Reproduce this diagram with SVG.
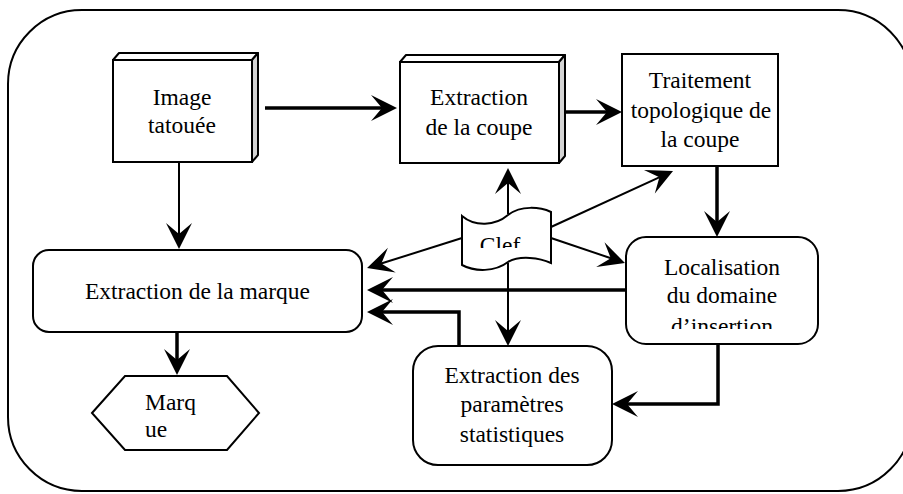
<svg xmlns="http://www.w3.org/2000/svg" width="903" height="494" viewBox="0 0 903 494">
<style>
.box{fill:#fff;stroke:#000;stroke-width:2}
.side{fill:#d4d4d4;stroke:#000;stroke-width:2;stroke-linejoin:round}
.top{fill:#fff;stroke:#000;stroke-width:2;stroke-linejoin:round}
text{font-family:'Liberation Serif','DejaVu Serif',serif;font-size:23.5px;fill:#000;text-anchor:middle}
.thick{fill:none;stroke:#000;stroke-width:3.5;marker-end:url(#ah)}
.thin{fill:none;stroke:#000;stroke-width:2;marker-end:url(#ah)}
</style>
<defs>
<marker id="ah" markerUnits="userSpaceOnUse" viewBox="-27 -14 28 28" refX="-14" refY="0" markerWidth="28" markerHeight="28" orient="auto" overflow="visible">
<path d="M0,0 L-26,-13 L-15,0 L-26,13 Z" fill="#000"/>
</marker>
<clipPath id="clipClef"><rect x="440" y="200" width="130" height="48"/></clipPath>
<clipPath id="clipLoc"><rect x="620" y="230" width="200" height="99"/></clipPath>
</defs>
<rect x="8" y="10" width="904" height="481" rx="74" ry="74" fill="none" stroke="#000" stroke-width="2"/>

<g id="connectors">
<path class="thick" d="M265,108 H383"/>
<path class="thick" d="M565,112 H608"/>
<path class="thick" d="M717,166 V223"/>
<path class="thin" d="M508,214 V182"/>
<path class="thin" d="M551,227 L660.3,176.8"/>
<path class="thin" d="M551,238 L611.7,258.5"/>
<path class="thin" d="M462,238 L380.4,263.8"/>
<path class="thin" d="M508,263 V332"/>
<path class="thin" d="M179,163 V235"/>
<path class="thick" d="M177,332 V361"/>
<path class="thick" d="M626,290 H381"/>
<path class="thick" d="M459,346 V312 H381"/>
<path class="thick" d="M718,344 V404 H626"/>
</g>

<g id="image-tatouee" font-family="Liberation Serif, serif">
<polygon class="top" points="113,60 119,53 258,53 252,60"/>
<polygon class="side" points="252,60 258,53 258,155 252,162"/>
<rect class="box" x="113" y="60" width="139" height="102"/>
<text x="182" y="105">Image</text>
<text x="182" y="133">tatouée</text>
</g>

<g id="extraction-coupe">
<polygon class="top" points="400,62 406,55 565,55 559,62"/>
<polygon class="side" points="559,62 565,55 565,156 559,163"/>
<rect class="box" x="400" y="62" width="159" height="101"/>
<text x="479" y="105">Extraction</text>
<text x="479" y="135">de la coupe</text>
</g>

<g id="traitement">
<rect class="box" x="622" y="54" width="156" height="112"/>
<text x="700" y="88">Traitement</text>
<text x="701" y="118">topologique de</text>
<text x="700" y="147">la coupe</text>
</g>

<g id="clef">
<path class="box" d="M462,216 C475,227 495,226 508,215 C521,205 540,207 551,212 L551,263 C540,258 520,255 508,262 C495,272 475,272 462,265 Z"/>
<text x="500" y="253" clip-path="url(#clipClef)">Clef</text>
</g>

<g id="localisation">
<rect class="box" x="626" y="237" width="192" height="107" rx="20"/>
<text x="722" y="275">Localisation</text>
<text x="722" y="303">du domaine</text>
<text x="722" y="334" clip-path="url(#clipLoc)">d’insertion</text>
</g>

<g id="extraction-marque">
<rect class="box" x="33" y="250" width="329" height="82" rx="16"/>
<text x="197.5" y="299">Extraction de la marque</text>
</g>

<g id="extraction-parametres">
<rect class="box" x="413" y="346" width="199" height="119" rx="25"/>
<text x="512" y="383">Extraction des</text>
<text x="512" y="412">paramètres</text>
<text x="512" y="442">statistiques</text>
</g>

<g id="marque">
<polygon class="box" points="92,413 125,376 227,376 259,413 227,450 125,450"/>
<text x="145" y="410" style="text-anchor:start">Marq</text>
<text x="145" y="437" style="text-anchor:start">ue</text>
</g>
</svg>
